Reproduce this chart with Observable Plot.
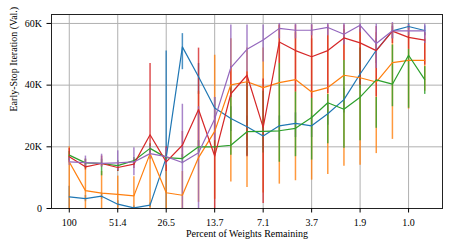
<!DOCTYPE html>
<html><head><meta charset="utf-8">
<script src="https://cdn.jsdelivr.net/npm/d3@7"></script>
<script src="https://cdn.jsdelivr.net/npm/@observablehq/plot@0.6"></script>
<style>html,body{margin:0;padding:0;background:#fff}</style>
</head><body><div id="chart"></div>
<script>
// pruning step index (x position) and tick labels (percent of weights remaining)
const steps = [0,1,2,3,4,5,6,7,8,9,10,11,12,13,14,15,16,17,18,19,20,21,22];
const tickSteps = [0,3,6,9,12,15,18,21];
const tickLabels = ["100","51.4","26.5","13.7","7.1","3.7","1.9","1.0"];
const yTicks = [0,20000,40000,60000];

const seriesNames = ["blue","orange","green","red","purple"];
const seriesColors = ["#1f77b4","#ff7f0e","#2ca02c","#d62728","#9467bd"];

// values in thousands of iterations
const blueMean = [3.8,3.2,4.0,1.4,0.2,1.1,16.5,52.4,42.7,32.6,29.2,26.5,23.5,26.8,27.6,26.8,30.7,35.3,43.6,51.3,57.6,59.0,57.7];
const blueLo   = [0,2.2,3.0,0.4,0,0.3,0,45,37,29,25,22,19,22,23,23,27,31,39,47,55,58,56];
const blueHi   = [7.2,4.2,5.0,2.5,0.8,1.8,51.1,56.7,47,36,33,30,28,30,31,30,34,39,48,55,59.5,60,59.2];

const orangeMean = [15.1,5.8,5.0,4.6,4.1,17.8,5.1,4.3,16.5,25.0,40.1,41.1,39.2,40.8,41.8,37.8,39.2,43.2,42.4,41.0,47.3,48.0,48.0];
const orangeLo   = [0,0,0,0,0,0,0,0,2,3,8.6,6.8,5,7.9,9,9.2,11,13.7,14,17.8,22.4,32.2,38];
const orangeHi   = [20,14.3,12,10.5,10.3,19,16,12,38,49.7,55,52,52,59.5,57,55,56,58,58,57,60,59,55];

const greenMean = [17.3,14.8,14.6,13.9,15.5,19.5,16.5,16.2,20.0,20.0,20.5,24.9,25.0,25.2,26.0,29.5,34.3,32.2,36.1,41.7,40.3,49.7,41.8];
const greenLo   = [15.5,13,10.6,12,14,18,15,14.5,18,17.5,17.3,17,18,15,16.8,15.7,21,19.5,22,26,33,32.5,37];
const greenHi   = [18.5,16,16,15.5,16.5,21,18,17.5,22,22,40,41,38,47,37.8,35.7,37,48,52,36,53,51.6,46];

const redMean = [16.8,13.5,14.6,13.3,14.4,23.9,15.1,20.5,32.1,17.0,37.2,43.2,26.3,54.0,51.2,49.2,51.2,55.3,53.7,51.2,57.5,55.5,54.6];
const redLo   = [15,12.5,13.5,12,13,17,12,16,20,0,36,16.8,1.6,47,37.8,35.7,37.3,48,40,36.2,53.5,51.6,46.5];
const redHi   = [19.5,16,17,15,16,47,20,25,52,30,46,44.3,42,59.5,59.5,59.5,59.5,59.5,59.5,59,59,59.5,57];

const purpleMean = [15.1,14.9,14.6,14.8,15.1,17.8,16.8,14.9,18.1,29.0,45.7,51.6,54.6,58.4,57.8,57.8,58.7,56.5,59.4,53.5,57.6,57.6,57.6];
const purpleLo   = [14,13.5,13.5,12.4,10.6,16,14,0,0,22,45.4,44.3,47.5,55,55,56,56,53,57,45.4,55,56,53.5];
const purpleHi   = [16.5,17,17.6,18.7,19.7,20,19.5,33.8,33,36,59.5,59.5,59.5,60,59.8,59.8,60,60,60,59.8,60.3,59.5,59.8];

const means = [blueMean, orangeMean, greenMean, redMean, purpleMean];
const los = [blueLo, orangeLo, greenLo, redLo, purpleLo];
const his = [blueHi, orangeHi, greenHi, redHi, purpleHi];

const tables = seriesNames.map((name, s) => steps.map((step, k) => ({
  series: name, step, mean: means[s][k]*1000, lo: los[s][k]*1000, hi: his[s][k]*1000
})));

const gridStyle = {stroke: "#b0b0b0", strokeOpacity: 1, strokeWidth: 1};

const chart = Plot.plot({
  width: 457, height: 252,
  marginLeft: 51, marginRight: 15, marginTop: 14, marginBottom: 44,
  style: {fontFamily: "'Liberation Serif','Times New Roman',serif", fontSize: "10px", background: "#fff", color: "#000"},
  x: {type: "linear", domain: [-1.1, 23.1]},
  y: {type: "linear", domain: [0, 62900]},
  marks: [
    Plot.gridX(tickSteps, gridStyle),
    Plot.gridY(yTicks, gridStyle),
    ...tables.map((t, s) => Plot.ruleX(t, {x: "step", y1: "lo", y2: "hi", stroke: seriesColors[s], strokeWidth: 1.5, strokeOpacity: 0.8})),
    ...tables.map((t, s) => Plot.line(t, {x: "step", y: "mean", stroke: seriesColors[s], strokeWidth: 1.2})),
    Plot.frame({stroke: "#222", strokeWidth: 1}),
    Plot.axisX(tickSteps, {tickFormat: d => tickLabels[tickSteps.indexOf(d)], tickSize: 4.5, tickPadding: 6, label: null, fontSize: 10}),
    Plot.axisY(yTicks, {tickFormat: d => d === 0 ? "0" : (d/1000) + "K", tickSize: 4.5, tickPadding: 5, label: null, fontSize: 10}),
    Plot.text(["Percent of Weights Remaining"], {frameAnchor: "bottom", dy: 28, text: d => d, fontSize: 10}),
    Plot.text(["Early-Stop Iteration (Val.)"], {frameAnchor: "left", dx: -38, rotate: -90, text: d => d, fontSize: 10})
  ]
});
document.getElementById("chart").appendChild(chart);
</script>
</body></html>
